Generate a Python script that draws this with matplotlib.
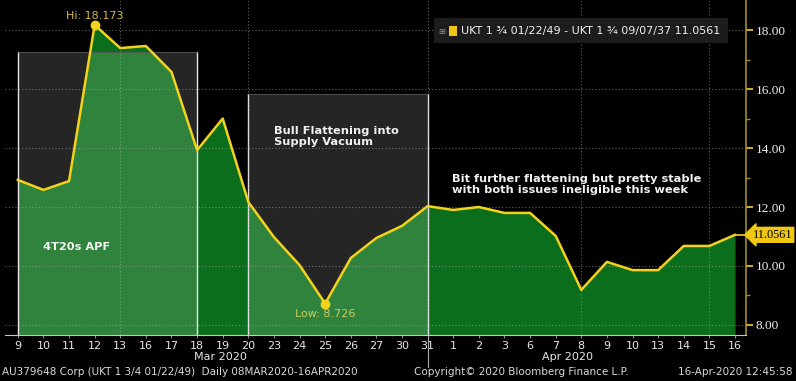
import matplotlib
matplotlib.use('Agg')

import numpy as np
import matplotlib.pyplot as plt
from matplotlib.patches import Rectangle
import matplotlib.transforms as mtrans

# Data
dates = ['9', '10', '11', '12', '13', '16', '17', '18', '19', '20', '23', '24', '25', '26', '27', '30', '31',
         '1', '2', '3', '6', '7', '8', '9', '10', '13', '14', '15', '16']
spread = [12.92, 12.58, 12.88, 18.173, 17.39, 17.46, 16.58, 13.93, 15.00, 12.17, 10.98, 10.03, 8.726,
          10.27, 10.95, 11.36, 12.03, 11.90, 12.00, 11.80, 11.80, 11.02, 9.19, 10.14, 9.86, 9.86,
          10.68, 10.68, 11.0561]
months = ['Mar 2020', 'Apr 2020']
yticks = [8, 10, 12, 14, 16, 18]
boxes = [(0, 7, 17.25), (9, 16, 15.83)]   # start idx, end idx, top value
vgrid = [4, 9, 16, 22, 27]

W, H = 796, 381
fig = plt.figure(figsize=(W / 100, H / 100), dpi=100, facecolor='black')
ax = fig.add_axes([5 / W, 46 / H, 741 / W, 335 / H], facecolor='black')

x = np.arange(len(spread))
ybot, ytop = 7.66, 19.02
ax.set_xlim(-0.5, 28.43)
ax.set_ylim(ybot, ytop)

ax.fill_between(x, spread, ybot, color='#0b6e1c', lw=0, zorder=2)

# shaded boxes
for x0, x1, top in boxes:
    ax.add_patch(Rectangle((x0, ybot), x1 - x0, top - ybot, facecolor='white', alpha=0.15,
                           lw=0, zorder=3))
    ax.plot([x0, x0], [ybot, top], color='#e8e8e8', lw=1.0, zorder=3)
    ax.plot([x1, x1], [ybot, top], color='#e8e8e8', lw=1.0, zorder=3)
    ax.plot([x0, x1], [top, top], color='#555555', lw=0.6, zorder=3)

# grid (drawn over the fill, as in the terminal)
for v in yticks:
    ax.axhline(v, color='#b0b0b0', lw=0.8, ls=(0, (1, 2)), zorder=4, alpha=0.55)
for v in vgrid:
    ax.axvline(v, color='#b0b0b0', lw=0.8, ls=(0, (1, 2)), zorder=4, alpha=0.55)

ax.plot(x, spread, color='#f2d21a', lw=1.8, zorder=5)

# hi / low
ihi = int(np.argmax(spread))
ilo = int(np.argmin(spread))
ax.plot([ihi, ilo], [spread[ihi], spread[ilo]], 'o', color='#f2d21a', ms=6, zorder=6)
ax.annotate('Hi: %.3f' % spread[ihi], (ihi, spread[ihi]), xytext=(0, 3), textcoords='offset points',
            ha='center', va='bottom', color='#d6b848', fontsize=8, zorder=7)
ax.annotate('Low: %.3f' % spread[ilo], (ilo, spread[ilo]), xytext=(0, -4), textcoords='offset points',
            ha='center', va='top', color='#c8cc60', fontsize=8, zorder=7)

# last value line and tag
last = spread[-1]
ax.plot([x[-1], 28.43], [last, last], color='#f2d21a', lw=1.2, zorder=5, clip_on=False)
ax.text(1.009, last, '%.4f' % last, transform=mtrans.blended_transform_factory(ax.transAxes, ax.transData),
        ha='left', va='center', fontsize=8.8, family='Liberation Serif', color='black',
        bbox=dict(boxstyle='larrow,pad=0.12', facecolor='#f0c814', edgecolor='#f0c814'), zorder=8)

# annotations
tk = dict(color='#f2f2f2', fontsize=8.2, fontweight='bold', family='DejaVu Sans', zorder=7)
ax.text(1.0, 10.64, '4T20s APF', va='center', **tk)
ax.text(10.0, 14.03, 'Bull Flattening into\nSupply Vacuum', va='bottom', linespacing=1.1, **tk)
ax.text(16.95, 12.41, 'Bit further flattening but pretty stable\nwith both issues ineligible this week',
        va='bottom', linespacing=1.1, **tk)

# axes styling
for s in ['top', 'left']:
    ax.spines[s].set_visible(False)
ax.spines['bottom'].set_color('#c8c8c8')
ax.spines['right'].set_color('#a08c28')
ax.spines['right'].set_linewidth(1.2)
ax.yaxis.tick_right()
ax.set_yticks(yticks)
ax.set_yticklabels(['%.2f' % v for v in yticks], family='Liberation Serif', fontsize=9.5)
ax.set_yticks([9, 11, 13, 15, 17], minor=True)
ax.tick_params(axis='y', which='major', colors='#c8a830', length=5, width=1.5, pad=2)
ax.tick_params(axis='y', which='minor', colors='#a08c28', length=3, width=1)
for t in ax.get_yticklabels():
    t.set_color('#f0f0f0')
ax.set_xticks(x)
ax.set_xticklabels(dates, fontsize=8)
ax.tick_params(axis='x', colors='#888888', length=2, pad=2)
for t in ax.get_xticklabels():
    t.set_color('#e6e6e6')

# month labels and separator
fig.text(220 / W, 1 - 357 / H, months[0], ha='center', va='center', fontsize=8, color='#e6e6e6')
fig.text(567 / W, 1 - 357 / H, months[1], ha='center', va='center', fontsize=8, color='#e6e6e6')
ax.plot([16, 16], [ybot, ybot - 1.1], color='#aaaaaa', lw=0.8, clip_on=False)

# legend box
fig.patches.append(Rectangle((434 / W, 1 - 43 / H), 294 / W, 25 / H, transform=fig.transFigure,
                             facecolor='#1c1c1c', edgecolor='none'))
fig.text(438 / W, 1 - 31 / H, '\u229e', fontsize=6, color='#909090', va='center', family='DejaVu Sans')
fig.patches.append(Rectangle((449 / W, 1 - 36 / H), 8 / W, 10 / H, transform=fig.transFigure,
                             facecolor='#f0c814', edgecolor='none'))
fig.text(461 / W, 1 - 31 / H, 'UKT 1 \u00be 01/22/49 - UKT 1 \u00be 09/07/37 11.0561', fontsize=8,
         color='#f0f0f0', va='center')

# footer
ft = dict(fontsize=7.5, color='#d8d8d8', va='center')
fig.text(2 / W, 1 - 372 / H, 'AU379648 Corp (UKT 1 3/4 01/22/49)  Daily 08MAR2020-16APR2020', **ft)
fig.text(414 / W, 1 - 372 / H, 'Copyright\u00a9 2020 Bloomberg Finance L.P.', **ft)
fig.text(793 / W, 1 - 372 / H, '16-Apr-2020 12:45:58', ha='right', **ft)

fig.savefig('out.png', dpi=100, facecolor='black')
